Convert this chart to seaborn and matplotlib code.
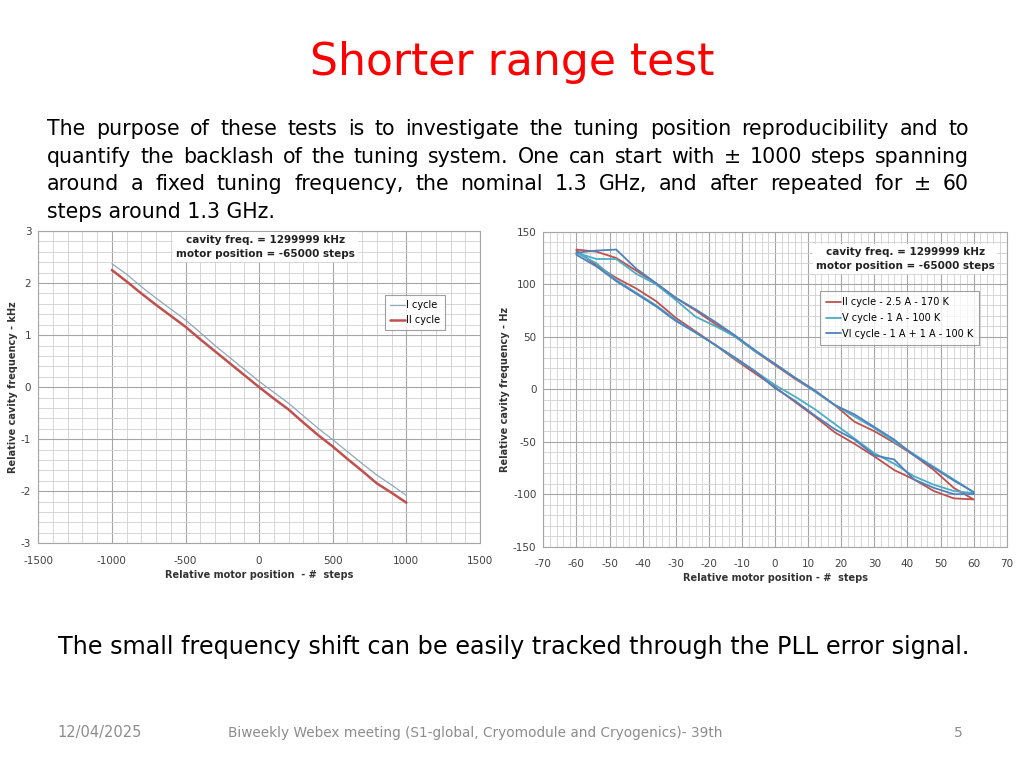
import numpy as np
import pandas as pd
import matplotlib
matplotlib.use("Agg")
import matplotlib.pyplot as plt
from matplotlib.ticker import MultipleLocator
import seaborn as sns

# ---- left chart: +-1000 steps ----
steps_long = [-1000, -900, -800, -700, -600, -500, -400, -300, -200, -100, 0,
              100, 200, 300, 400, 500, 600, 700, 800, 900, 1000]
cycle_I = [2.37, 2.17, 1.93, 1.71, 1.50, 1.29, 1.05, 0.80, 0.57, 0.34, 0.11,
           -0.10, -0.31, -0.55, -0.79, -1.01, -1.24, -1.47, -1.69, -1.88, -2.08]
cycle_II = [2.25, 2.03, 1.80, 1.58, 1.37, 1.16, 0.92, 0.69, 0.46, 0.23, 0.0,
            -0.22, -0.43, -0.68, -0.92, -1.14, -1.38, -1.61, -1.85, -2.03, -2.22]

# ---- right chart: +-60 steps (loop: lower 0->60, upper 60->-60, lower -60->0) ----
steps_short = [-60, -54, -48, -42, -36, -30, -24, -18, -12, -6, 0,
               6, 12, 18, 24, 30, 36, 42, 48, 54, 60]
red_upper = [133, 131, 125, 113, 101, 87, 75, 62, 50, 36, 23,
             10, -2, -15, -31, -40, -51, -63, -77, -94, -105]
red_lower = [132, 118, 106, 96, 84, 68, 55, 42, 28, 15, 2,
             -12, -26, -41, -52, -64, -77, -86, -97, -104, -105]
teal_upper = [130, 124, 124, 110, 100, 85, 69, 60, 50, 36, 24,
              11, -2, -15, -26, -37, -50, -62, -74, -86, -98]
teal_lower = [130, 120, 104, 92, 80, 66, 54, 42, 29, 17, 4,
              -7, -19, -33, -47, -61, -71, -83, -91, -97, -99]
blue_upper = [130, 132, 133, 115, 101, 87, 76, 64, 51, 37, 24,
              11, -1, -15, -24, -36, -48, -63, -75, -87, -98]
blue_lower = [128, 117, 103, 91, 79, 65, 54, 42, 30, 17, 1,
              -11, -25, -38, -48, -63, -67, -86, -94, -100, -100]

labels_short = ["II cycle - 2.5 A - 170 K", "V cycle - 1 A - 100 K", "VI cycle - 1 A + 1 A - 100 K"]
colors_short = ["#c0504d", "#4bacc6", "#4f81bd"]


def loop_path(lower, upper):
    xs, ys = [], []
    n = len(steps_short)
    mid = steps_short.index(0)
    for i in range(mid, n):
        xs.append(steps_short[i]); ys.append(lower[i])
    for i in range(n - 1, -1, -1):
        xs.append(steps_short[i]); ys.append(upper[i])
    for i in range(0, mid + 1):
        xs.append(steps_short[i]); ys.append(lower[i])
    return xs, ys


frames = []
for lab, lo, up in zip(labels_short, [red_lower, teal_lower, blue_lower],
                       [red_upper, teal_upper, blue_upper]):
    xs, ys = loop_path(lo, up)
    frames.append(pd.DataFrame({"step": xs, "freq": ys, "cycle": lab}))
df_short = pd.concat(frames, ignore_index=True)

df_long = pd.concat([
    pd.DataFrame({"step": steps_long, "freq": cycle_I, "cycle": "I cycle"}),
    pd.DataFrame({"step": steps_long, "freq": cycle_II, "cycle": "II cycle"}),
], ignore_index=True)

sns.set_style("white")
plt.rcParams["font.family"] = ["DejaVu Sans"]
plt.rcParams["text.color"] = "black"
plt.rcParams["axes.unicode_minus"] = False

fig = plt.figure(figsize=(10.24, 7.68), dpi=100)
fig.patch.set_facecolor("white")

tick_color = "#404040"
grid_major = "#a6a6a6"
grid_minor = "#d0d0d0"


def style_axes(ax, xmaj, xmin, ymaj, ymin):
    ax.xaxis.set_major_locator(MultipleLocator(xmaj))
    ax.xaxis.set_minor_locator(MultipleLocator(xmin))
    ax.yaxis.set_major_locator(MultipleLocator(ymaj))
    ax.yaxis.set_minor_locator(MultipleLocator(ymin))
    ax.grid(which="major", color=grid_major, linewidth=0.8)
    ax.grid(which="minor", color=grid_minor, linewidth=0.6)
    ax.set_axisbelow(True)
    for s in ax.spines.values():
        s.set_color(grid_major)
        s.set_linewidth(0.8)
    ax.tick_params(which="both", length=0, labelsize=7.5, labelcolor=tick_color)
    ax.tick_params(axis="x", pad=9)
    ax.tick_params(axis="y", pad=5)


# left chart
ax1 = fig.add_axes([0.0374, 0.2926, 0.4313, 0.4066])
sns.lineplot(data=df_long, x="step", y="freq", hue="cycle", size="cycle",
             sizes={"I cycle": 0.9, "II cycle": 1.8},
             palette={"I cycle": "#8fa7b8", "II cycle": "#c0504d"},
             sort=False, estimator=None, ax=ax1)
ax1.set_xlim(-1500, 1500)
ax1.set_ylim(-3, 3)
style_axes(ax1, 500, 100, 1, 0.2)
ax1.set_xlabel("Relative motor position  - #  steps", fontsize=7, fontweight="bold", color="#333333", labelpad=3)
ax1.set_ylabel("Relative cavity frequency - kHz", fontsize=7, fontweight="bold", color="#333333", labelpad=2)
leg1 = ax1.legend(loc="upper left", bbox_to_anchor=(0.774, 0.81), fontsize=7, frameon=True,
                  fancybox=False, handlelength=1.6, handletextpad=0.1, borderpad=0.5,
                  labelspacing=0.5, title=None)
leg1.get_frame().set_edgecolor("#888888")
leg1.get_frame().set_linewidth(0.8)
ax1.text(0.515, 0.949, "cavity freq. = 1299999 kHz\nmotor position = -65000 steps",
         transform=ax1.transAxes, ha="center", va="center", fontsize=7.5, fontweight="bold",
         color="#222222", linespacing=1.5,
         bbox=dict(facecolor="white", edgecolor="none", pad=2))

# right chart
ax2 = fig.add_axes([0.5306, 0.2882, 0.4525, 0.4101])
sns.lineplot(data=df_short, x="step", y="freq", hue="cycle", units="cycle",
             palette=dict(zip(labels_short, colors_short)), linewidth=1.3,
             sort=False, estimator=None, ax=ax2)
ax2.set_xlim(-70, 70)
ax2.set_ylim(-150, 150)
style_axes(ax2, 10, 2, 50, 10)
ax2.set_xlabel("Relative motor position - #  steps", fontsize=7, fontweight="bold", color="#333333", labelpad=3)
ax2.set_ylabel("Relative cavity frequency - Hz", fontsize=7, fontweight="bold", color="#333333", labelpad=2)
leg2 = ax2.legend(loc="upper left", bbox_to_anchor=(0.586, 0.826), fontsize=7, frameon=True,
                  fancybox=False, handlelength=1.6, handletextpad=0.1, borderpad=0.6,
                  labelspacing=0.6, title=None)
leg2.get_frame().set_edgecolor("#888888")
leg2.get_frame().set_linewidth(0.8)
ax2.text(0.781, 0.913, "cavity freq. = 1299999 kHz\nmotor position = -65000 steps",
         transform=ax2.transAxes, ha="center", va="center", fontsize=7.5, fontweight="bold",
         color="#222222", linespacing=1.5,
         bbox=dict(facecolor="white", edgecolor="none", pad=2))

# slide texts
fig.text(0.5, 1 - 63 / 768, "Shorter range test", ha="center", va="center",
         fontsize=31.8, color="#ff0000")

para = [
    "The purpose of these tests is to investigate the tuning position reproducibility and to",
    "quantify the backlash of the tuning system. One can start with \u00b1 1000 steps spanning",
    "around a fixed tuning frequency, the nominal 1.3 GHz, and after repeated  for \u00b1 60",
    "steps around 1.3 GHz.",
]
line_y = [129, 157, 184, 212]
x_left, x_right = 47, 969
body_size = 14.8
renderer = fig.canvas.get_renderer()
for i, (line, yy) in enumerate(zip(para, line_y)):
    yf = 1 - yy / 768
    if i == len(para) - 1:
        fig.text(x_left / 1024, yf, line, ha="left", va="center", fontsize=body_size)
        continue
    words = line.split()
    arts = [fig.text(0, yf, w, ha="left", va="center", fontsize=body_size) for w in words]
    widths = [a.get_window_extent(renderer).width for a in arts]
    gap = (x_right - x_left - sum(widths)) / (len(words) - 1)
    x = x_left
    for a, w in zip(arts, widths):
        a.set_x(x / 1024)
        x += w + gap

fig.text(514 / 1024, 1 - 647 / 768,
         "The small frequency shift can be easily tracked through the PLL error signal.",
         ha="center", va="center", fontsize=17.2)

fig.text(100 / 1024, 1 - 733 / 768, "12/04/2025", ha="center", va="center", fontsize=10.5, color="#8c8c8c")
fig.text(475 / 1024, 1 - 733 / 768,
         "Biweekly Webex meeting (S1-global, Cryomodule and Cryogenics)- 39th",
         ha="center", va="center", fontsize=9.8, color="#8c8c8c")
fig.text(958 / 1024, 1 - 733 / 768, "5", ha="center", va="center", fontsize=10, color="#8c8c8c")

fig.savefig("out.png", dpi=100, facecolor="white")
